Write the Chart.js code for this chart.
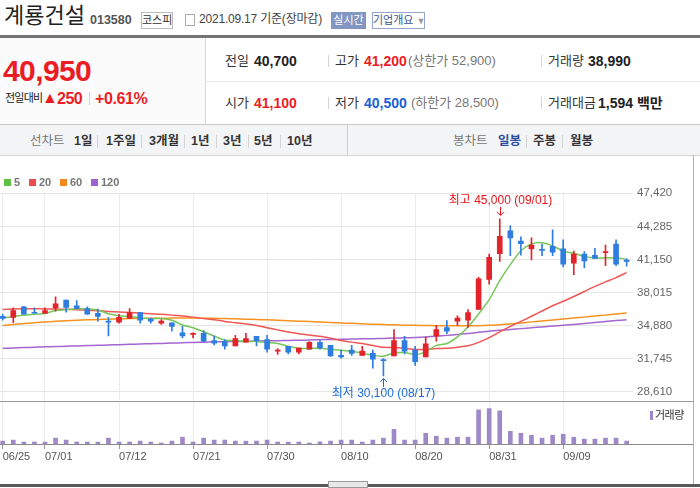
<!DOCTYPE html>
<html lang="ko">
<head>
<meta charset="utf-8">
<title>계룡건설 일봉 차트</title>
<script src="https://cdn.jsdelivr.net/npm/chart.js@4.4.1/dist/chart.umd.min.js"></script>
<style>
  body { margin: 0; width: 700px; height: 488px; overflow: hidden; background: #fff; position: relative;
         font-family: "Liberation Sans", "Noto Sans CJK KR", sans-serif; color: #333; }
  .a { position: absolute; white-space: nowrap; line-height: 1; }
  .ln { position: absolute; }
  .b { font-weight: bold; }
  .red { color: #ec1c24; }
  .blue { color: #1a5fd6; }
  .gray { color: #777; }
  .sep { position: absolute; width: 1px; background: #d4d4d4; }
  canvas { position: absolute; left: 0; }
  .top { z-index: 2; }
</style>
</head>
<body>

<!-- header -->
<div class="a" style="left:4px;top:5px;font-size:22px;color:#222;">계룡건설</div>
<div class="a b" style="left:90px;top:14px;font-size:12.5px;color:#555;">013580</div>
<div class="a" style="left:141px;top:12px;width:30px;height:15px;border:1px solid #bcbcbc;font-size:11px;line-height:15px;text-align:center;">코스피</div>
<div class="ln" style="left:185px;top:14px;width:8px;height:10px;border:1px solid #aaa;"></div>
<div class="a" style="left:199px;top:13px;font-size:12px;color:#444;letter-spacing:-0.2px;">2021.09.17 기준(장마감)</div>
<div class="a" style="left:331px;top:12px;width:35px;height:17px;background:#8196c0;color:#fff;font-size:11px;line-height:17px;text-align:center;">실시간</div>
<div class="a" style="left:372px;top:12px;width:51px;height:15px;border:1px solid #94a6cc;color:#3a5595;font-size:11px;line-height:15px;text-align:center;">기업개요 <span style="color:#999;font-size:9px;">▼</span></div>
<div class="ln" style="left:0;top:35px;width:700px;height:3px;background:#737373;"></div>

<!-- price info -->
<div class="ln" style="left:0;top:38px;width:205px;height:86px;background:#fbfbfb;"></div>
<div class="ln" style="left:205px;top:38px;width:1px;height:86px;background:#d8d8d8;"></div>
<div class="ln" style="left:206px;top:81px;width:494px;height:1px;background:#e8e8e8;"></div>
<div class="a b red" style="left:3px;top:56px;font-size:30px;letter-spacing:-0.6px;">40,950</div>
<div class="a" style="left:5px;top:93px;font-size:11px;color:#222;letter-spacing:-0.8px;">전일대비</div>
<div class="a red" style="left:42px;top:90px;font-size:16px;">▲</div>
<div class="a b red" style="left:57px;top:91px;font-size:16px;letter-spacing:-0.5px;">250</div>
<div class="sep" style="left:89px;top:92px;height:13px;"></div>
<div class="a b red" style="left:95px;top:91px;font-size:16px;letter-spacing:-0.4px;">+0.61%</div>

<div class="a" style="left:225px;top:54px;font-size:13px;">전일</div>
<div class="a b" style="left:254px;top:54px;font-size:14px;color:#222;">40,700</div>
<div class="sep" style="left:328px;top:55px;height:12px;"></div>
<div class="a" style="left:335px;top:54px;font-size:13px;">고가</div>
<div class="a b red" style="left:364px;top:54px;font-size:14px;">41,200</div>
<div class="a gray" style="left:408px;top:54px;font-size:13px;">(상한가 52,900)</div>
<div class="sep" style="left:541px;top:55px;height:12px;"></div>
<div class="a" style="left:548px;top:54px;font-size:13px;">거래량</div>
<div class="a b" style="left:588px;top:54px;font-size:14px;color:#222;">38,990</div>

<div class="a" style="left:225px;top:96px;font-size:13px;">시가</div>
<div class="a b red" style="left:254px;top:96px;font-size:14px;">41,100</div>
<div class="sep" style="left:328px;top:97px;height:12px;"></div>
<div class="a" style="left:335px;top:96px;font-size:13px;">저가</div>
<div class="a b blue" style="left:364px;top:96px;font-size:14px;">40,500</div>
<div class="a gray" style="left:411px;top:96px;font-size:13px;">(하한가 28,500)</div>
<div class="sep" style="left:541px;top:97px;height:12px;"></div>
<div class="a" style="left:548px;top:96px;font-size:13px;">거래대금</div>
<div class="a b" style="left:598px;top:96px;font-size:14px;color:#222;">1,594 백만</div>

<!-- period tabs -->
<div class="ln" style="left:0;top:124px;width:700px;height:30px;background:#f3f4f6;border-top:1px solid #c8c8c8;border-bottom:1px solid #d6d6d6;"></div>
<div class="ln" style="left:347px;top:125px;width:1px;height:30px;background:#cfcfcf;"></div>
<div class="a gray" style="left:30px;top:135px;font-size:12.5px;">선차트</div>
<div class="a b" style="left:74px;top:135px;font-size:12.5px;">1일</div>
<div class="sep" style="left:97px;top:135px;height:13px;"></div>
<div class="a b" style="left:106px;top:135px;font-size:12.5px;">1주일</div>
<div class="sep" style="left:141px;top:135px;height:13px;"></div>
<div class="a b" style="left:149px;top:135px;font-size:12.5px;">3개월</div>
<div class="sep" style="left:184px;top:135px;height:13px;"></div>
<div class="a b" style="left:191px;top:135px;font-size:12.5px;">1년</div>
<div class="sep" style="left:216px;top:135px;height:13px;"></div>
<div class="a b" style="left:223px;top:135px;font-size:12.5px;">3년</div>
<div class="sep" style="left:248px;top:135px;height:13px;"></div>
<div class="a b" style="left:254px;top:135px;font-size:12.5px;">5년</div>
<div class="sep" style="left:280px;top:135px;height:13px;"></div>
<div class="a b" style="left:287px;top:135px;font-size:12.5px;">10년</div>
<div class="a gray" style="left:453px;top:135px;font-size:12.5px;">봉차트</div>
<div class="a b" style="left:498px;top:135px;font-size:12.5px;color:#2b4f9e;">일봉</div>
<div class="sep" style="left:526px;top:135px;height:13px;"></div>
<div class="a b" style="left:533px;top:135px;font-size:12.5px;">주봉</div>
<div class="sep" style="left:562px;top:135px;height:13px;"></div>
<div class="a b" style="left:570px;top:135px;font-size:12.5px;">월봉</div>

<!-- charts -->
<canvas id="priceChart" width="693" height="242" style="top:170px;"></canvas>
<canvas id="volumeChart" width="693" height="66" style="top:400px;"></canvas>

<!-- moving average legend -->
<div class="ln top" style="left:4px;top:179px;width:7px;height:7px;background:#5fbf42;"></div>
<div class="a b top" style="left:14px;top:177px;font-size:11px;color:#777;">5</div>
<div class="ln top" style="left:29px;top:179px;width:7px;height:7px;background:#ee4c4c;"></div>
<div class="a b top" style="left:39px;top:177px;font-size:11px;color:#777;">20</div>
<div class="ln top" style="left:60px;top:179px;width:7px;height:7px;background:#f5891f;"></div>
<div class="a b top" style="left:70px;top:177px;font-size:11px;color:#777;">60</div>
<div class="ln top" style="left:91px;top:179px;width:7px;height:7px;background:#a060cf;"></div>
<div class="a b top" style="left:101px;top:177px;font-size:11px;color:#777;">120</div>

<!-- frame lines -->
<div class="ln top" style="left:693px;top:155px;width:1px;height:329px;background:#b0b0b0;"></div>
<div class="ln top" style="left:0;top:401px;width:693px;height:1px;background:#9a9a9a;"></div>
<div class="ln top" style="left:0;top:444px;width:693px;height:1px;background:#8a8a8a;"></div>
<div class="ln top" style="left:650px;top:411px;width:3px;height:9px;background:#9d89c8;"></div>
<div class="a top" style="left:655px;top:410px;font-size:11px;color:#333;letter-spacing:-0.5px;">거래량</div>
<div class="ln top" style="left:0;top:484px;width:700px;height:3px;background:#5a5a5a;"></div>
<div class="ln top" style="left:328px;top:481px;width:38px;height:5px;background:#e8e8e8;border:1px solid #999;"></div>

<script>
// daily candles 2021-06-25 .. 2021-09-17
const dates = [
    "06/25", "06/28", "06/29", "06/30", "07/01", "07/02", "07/05", "07/06", "07/07", "07/08",
    "07/09", "07/12", "07/13", "07/14", "07/15", "07/16", "07/19", "07/20", "07/21", "07/22",
    "07/23", "07/26", "07/27", "07/28", "07/29", "07/30", "08/02", "08/03", "08/04", "08/05",
    "08/06", "08/09", "08/10", "08/11", "08/12", "08/13", "08/17", "08/18", "08/19", "08/20",
    "08/23", "08/24", "08/25", "08/26", "08/27", "08/30", "08/31", "09/01", "09/02", "09/03",
    "09/06", "09/07", "09/08", "09/09", "09/10", "09/13", "09/14", "09/15", "09/16", "09/17"
];

const opens = [
    35750, 35650, 36650, 36100, 36050, 36550, 37300, 36750, 36500, 36050,
    35250, 35200, 35550, 36100, 35500, 35100, 35150, 34200, 34050, 34150,
    33450, 33350, 32950, 33300, 33850, 33550, 32450, 32900, 32350, 32650,
    33300, 33000, 32050, 32550, 32050, 32250, 31650, 32000, 33450, 32550,
    31900, 33900, 34700, 35300, 35400, 36400, 39250, 41700, 43850, 42900,
    42150, 42100, 42400, 42150, 40800, 41650, 41550, 41800, 42600, 41100
];
const highs = [
    35950, 36550, 36700, 36550, 36550, 37600, 37300, 37250, 36650, 36450,
    35650, 35950, 36500, 36100, 35600, 35450, 35150, 34800, 34200, 34400,
    33900, 33550, 33950, 34150, 33850, 33950, 32700, 32900, 32750, 33350,
    33450, 33000, 32550, 33000, 32900, 32550, 31750, 34500, 33850, 32900,
    33800, 34900, 35350, 35800, 36400, 39450, 41650, 45000, 44350, 43300,
    43200, 42600, 43950, 43000, 41950, 41900, 42200, 42500, 43000, 41200
];
const lows = [
    35400, 35150, 35950, 36050, 36000, 36250, 36150, 36500, 35950, 35300,
    33900, 35100, 35550, 35100, 35100, 35000, 34350, 33700, 33700, 33300,
    33050, 32650, 32950, 33300, 32950, 32350, 32150, 32200, 32200, 32650,
    32650, 31950, 31800, 32050, 32050, 30850, 30100, 32000, 32200, 31100,
    31900, 33400, 34100, 34900, 34700, 36400, 38800, 40950, 41500, 41550,
    41100, 41500, 41500, 40450, 39700, 40350, 41250, 40550, 40550, 40500
];
const closes = [
    35550, 36300, 35950, 36050, 36300, 36950, 36600, 36500, 35950, 35750,
    35200, 35650, 36100, 35400, 35300, 35300, 34800, 33900, 34100, 33400,
    33200, 32950, 33650, 33650, 33450, 32650, 32500, 32350, 32750, 33300,
    32750, 32000, 31900, 32250, 32450, 31700, 31550, 33450, 32450, 31450,
    33150, 34500, 34350, 35600, 36100, 39300, 41350, 43350, 43200, 42650,
    42500, 42000, 41850, 40700, 41650, 41000, 41250, 41900, 40700, 40950
];
const volumes = [
    39000, 52000, 26000, 27000, 25000, 78000, 52000, 27000, 26000, 25000,
    78000, 26000, 27000, 39000, 26000, 13000, 39000, 91000, 26000, 78000,
    52000, 52000, 39000, 38000, 39000, 52000, 26000, 25000, 26000, 13000,
    28000, 39000, 52000, 52000, 26000, 52000, 78000, 195000, 52000, 52000,
    143000, 104000, 78000, 91000, 91000, 455000, 472000, 442000, 169000, 143000,
    117000, 78000, 117000, 130000, 91000, 65000, 65000, 78000, 78000, 38990
];

// moving average lines as drawn on the chart
const ma5 = [
    35600, 35750, 35850, 35950, 36030, 36310, 36370, 36480, 36460, 36350,
    36000, 35810, 35730, 35620, 35530, 35550, 35380, 34940, 34680, 34300,
    33880, 33510, 33460, 33370, 33380, 33270, 33180, 32920, 32740, 32710,
    32730, 32630, 32540, 32440, 32270, 32060, 31970, 32280, 32320, 32120,
    32410, 33000, 33180, 33810, 34740, 35970, 37340, 39140, 40660, 41970,
    42610, 42740, 42440, 41940, 41740, 41440, 41290, 41300, 41300, 41160
];
const ma20 = [
    36400, 36450, 36480, 36480, 36460, 36450, 36420, 36380, 36330, 36280,
    36220, 36170, 36120, 36060, 36000, 35950, 35870, 35780, 35680, 35550,
    35440, 35270, 35150, 35030, 34890, 34680, 34470, 34260, 34100, 33980,
    33860, 33680, 33470, 33310, 33170, 32990, 32820, 32800, 32720, 32620,
    32620, 32700, 32730, 32830, 32960, 33290, 33740, 34290, 34810, 35280,
    35760, 36260, 36760, 37180, 37640, 38110, 38590, 39020, 39430, 39900
];
const ma60 = [
    34880, 34980, 35070, 35150, 35220, 35280, 35330, 35380, 35420, 35460,
    35490, 35520, 35540, 35560, 35570, 35580, 35590, 35590, 35590, 35580,
    35570, 35550, 35520, 35490, 35460, 35420, 35380, 35340, 35300, 35260,
    35210, 35170, 35130, 35090, 35050, 35010, 34980, 34950, 34920, 34900,
    34880, 34870, 34860, 34860, 34860, 34870, 34900, 34960, 35040, 35130,
    35230, 35320, 35410, 35500, 35590, 35680, 35780, 35870, 35970, 36070
];
const ma120 = [
    32720, 32760, 32790, 32830, 32860, 32890, 32920, 32950, 32980, 33010,
    33040, 33070, 33100, 33130, 33160, 33190, 33220, 33250, 33280, 33310,
    33330, 33350, 33370, 33390, 33410, 33430, 33450, 33470, 33490, 33510,
    33540, 33560, 33580, 33600, 33620, 33640, 33660, 33690, 33720, 33750,
    33800, 33870, 33950, 34040, 34130, 34240, 34350, 34430, 34510, 34590,
    34670, 34750, 34830, 34910, 34990, 35080, 35170, 35260, 35350, 35440
];

const priceTicks = [28610, 31745, 34880, 38015, 41150, 44285, 47420];
const dateTicks = ["06/25", "07/01", "07/12", "07/21", "07/30", "08/10", "08/20", "08/31", "09/09"];

const UP_COLOR = "#e2232a";
const DOWN_COLOR = "#2f7de1";

Chart.defaults.font.family = "'Liberation Sans', 'Noto Sans CJK KR', sans-serif";

const idx = dates.map((d, i) => i);
const candleColors = idx.map(i => closes[i] >= opens[i] ? UP_COLOR : DOWN_COLOR);
const fmt = v => v.toLocaleString("en-US");

// shared x axis: one unit per trading day, grid only on the labelled dates
function dayAxis(showLabels) {
    return {
        type: "linear",
        offset: false,
        min: -0.255,
        max: 59.6,
        afterBuildTicks: function(scale) {
            scale.ticks = dateTicks.map(d => ({ value: dates.indexOf(d) }));
        },
        afterFit: function(scale) {
            scale.height = showLabels ? 22 : 0;
        },
        ticks: {
            display: showLabels,
            autoSkip: false,
            maxRotation: 0,
            align: "start",
            padding: 1,
            color: "#555",
            font: { size: 11 },
            callback: function(value) { return dates[value]; }
        },
        grid: {
            offset: false,
            color: "#ebebeb",
            drawTicks: showLabels,
            tickLength: 5,
            tickColor: "#999"
        },
        border: { display: false }
    };
}

function maLine(label, values, color, order) {
    return {
        type: "line",
        label: label,
        data: idx.map(i => ({ x: i, y: values[i] })),
        borderColor: color,
        borderWidth: 1.5,
        pointRadius: 0,
        tension: 0.25,
        order: order
    };
}

// "최고 / 최저" markers on the highest high and lowest low
const hiLoMarkers = {
    id: "hiLoMarkers",
    afterDatasetsDraw: function(chart) {
        const ctx = chart.ctx;
        const x = chart.scales.x;
        const y = chart.scales.y;
        const hi = highs.indexOf(Math.max(...highs));
        const lo = lows.indexOf(Math.min(...lows));

        ctx.save();
        ctx.font = "12px 'Liberation Sans', 'Noto Sans CJK KR'";
        ctx.textAlign = "center";
        ctx.textBaseline = "middle";
        ctx.lineWidth = 1;

        // high
        let px = Math.round(x.getPixelForValue(hi)) + 0.5;
        let py = y.getPixelForValue(highs[hi]);
        ctx.fillStyle = ctx.strokeStyle = "#e8151b";
        ctx.fillText("최고 " + fmt(highs[hi]) + " (" + dates[hi] + ")", px, py - 18.5);
        ctx.beginPath();
        ctx.moveTo(px, py - 12); ctx.lineTo(px, py - 3.5);
        ctx.moveTo(px - 3.5, py - 7); ctx.lineTo(px, py - 3.5); ctx.lineTo(px + 3.5, py - 7);
        ctx.stroke();

        // low
        px = Math.round(x.getPixelForValue(lo)) + 0.5;
        py = y.getPixelForValue(lows[lo]);
        ctx.fillStyle = ctx.strokeStyle = "#1d6ad6";
        ctx.fillText("최저 " + fmt(lows[lo]) + " (" + dates[lo] + ")", px, py + 17.5);
        ctx.beginPath();
        ctx.moveTo(px, py + 11); ctx.lineTo(px, py + 2.5);
        ctx.moveTo(px - 3.5, py + 6); ctx.lineTo(px, py + 2.5); ctx.lineTo(px + 3.5, py + 6);
        ctx.stroke();
        ctx.restore();
    }
};

new Chart(document.getElementById("priceChart"), {
    data: {
        datasets: [
            {
                type: "bar",
                label: "body",
                data: idx.map(i => ({ x: i, y: [opens[i], closes[i]] })),
                backgroundColor: candleColors,
                barThickness: 5,
                minBarLength: 1,
                grouped: false,
                order: 0
            },
            {
                type: "bar",
                label: "wick",
                data: idx.map(i => ({ x: i, y: [lows[i], highs[i]] })),
                backgroundColor: candleColors,
                barThickness: 1,
                grouped: false,
                order: 1
            },
            maLine("5", ma5, "#76c75a", 2),
            maLine("20", ma20, "#f05656", 3),
            maLine("60", ma60, "#f7921f", 4),
            maLine("120", ma120, "#a466d0", 5)
        ]
    },
    options: {
        responsive: false,
        animation: false,
        layout: { padding: { top: 23.3, bottom: 12, left: 0, right: 0 } },
        plugins: {
            legend: { display: false },
            tooltip: { enabled: false }
        },
        scales: {
            x: dayAxis(false),
            y: {
                position: "right",
                min: 27823,
                max: 47420,
                afterBuildTicks: function(scale) {
                    scale.ticks = priceTicks.map(v => ({ value: v }));
                },
                afterFit: function(scale) { scale.width = 60; },
                ticks: {
                    color: "#666",
                    padding: 4,
                    font: { size: 11.5 },
                    callback: function(value) { return fmt(value); }
                },
                grid: { color: "#e6e6e6", drawTicks: false },
                border: { display: false }
            }
        }
    },
    plugins: [hiLoMarkers]
});

new Chart(document.getElementById("volumeChart"), {
    type: "bar",
    data: {
        datasets: [{
            label: "거래량",
            data: idx.map(i => ({ x: i, y: volumes[i] })),
            backgroundColor: "#9d89c8",
            barThickness: 4
        }]
    },
    options: {
        responsive: false,
        animation: false,
        layout: { padding: { top: 2, bottom: 0, left: 0, right: 60 } },
        plugins: {
            legend: { display: false },
            tooltip: { enabled: false }
        },
        scales: {
            x: dayAxis(true),
            y: { display: false, min: 0, max: 560000 }
        }
    }
});
</script>
</body>
</html>
